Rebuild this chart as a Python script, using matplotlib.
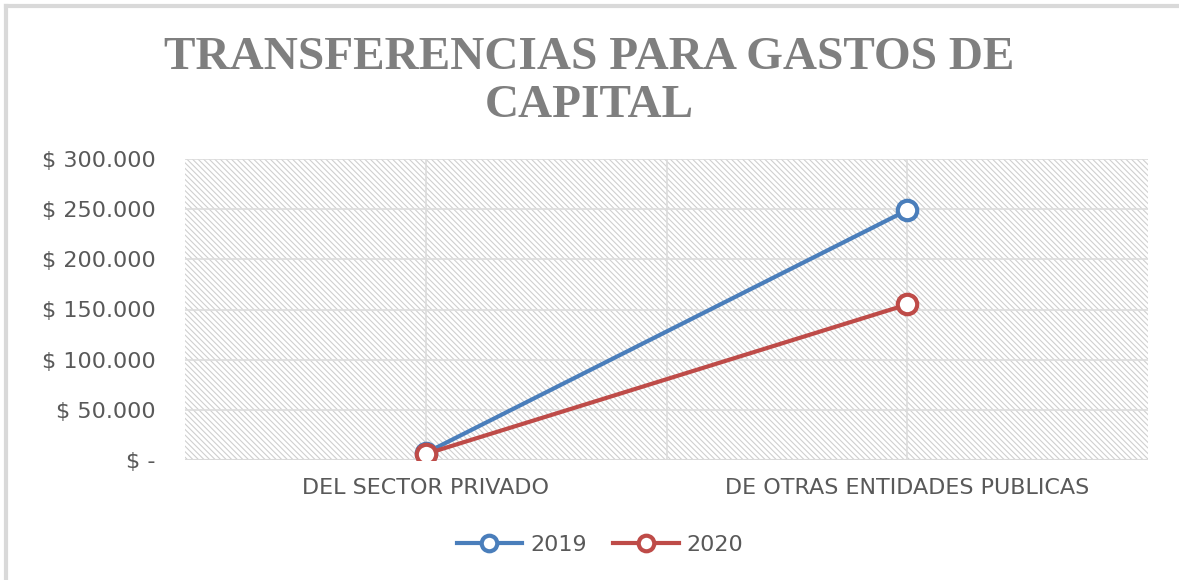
import matplotlib
matplotlib.use("Agg")
import matplotlib.pyplot as plt
from matplotlib.patches import Rectangle
from matplotlib.ticker import FuncFormatter, MultipleLocator

categories = ["DEL SECTOR PRIVADO", "DE OTRAS ENTIDADES PUBLICAS"]
series_names = ["2019", "2020"]
values_2019 = [7000, 249000]
values_2020 = [6000, 155000]
colors = ["#4a7ebb", "#be4b48"]

plt.rcParams["hatch.linewidth"] = 0.8
plt.rcParams["hatch.color"] = "#cfcfcf"

fig = plt.figure(figsize=(11.79, 5.80), dpi=100)
fig.patch.set_facecolor("white")

# outer frame (left & top)
fig.add_artist(plt.Line2D([6/1179, 6/1179], [0, 1-6/580], color="#d9d9d9", lw=3, transform=fig.transFigure))
fig.add_artist(plt.Line2D([6/1179, 1], [1-6/580, 1-6/580], color="#d9d9d9", lw=3, transform=fig.transFigure))

ax = fig.add_axes([185/1179, 1-460/580, (1148-185)/1179, (460-159)/580])
ax.set_xlim(0, 2)
ax.set_ylim(0, 300000)
ax.set_facecolor("white")
ax.add_patch(Rectangle((0, 0), 2, 300000, facecolor="white", edgecolor="#cfcfcf",
                       hatch="\\" * 6, lw=0, zorder=0))

for s in ax.spines.values():
    s.set_visible(False)
ax.yaxis.set_major_locator(MultipleLocator(50000))
for y in range(50000, 300001, 50000):
    ax.axhline(y, color="#dcdcdc", lw=1.2, zorder=1)
ax.axhline(0, color="#d9d9d9", lw=1.5, zorder=1)
for x in [0.5, 1.0, 1.5]:
    ax.axvline(x, color="#dcdcdc", lw=1.2, zorder=1)

def fmt(v, pos):
    if v == 0:
        return "$ -"
    return "$ " + f"{int(v):,}".replace(",", ".")
ax.yaxis.set_major_formatter(FuncFormatter(fmt))

xpos = [0.5, 1.5]
for vals, name, c in [(values_2019, series_names[0], colors[0]), (values_2020, series_names[1], colors[1])]:
    ax.plot(xpos, vals, color=c, lw=3, marker="o", markersize=14, markerfacecolor="white",
            markeredgecolor=c, markeredgewidth=3, label=name, zorder=3)

ax.set_xticks(xpos)
ax.set_xticklabels(categories)
ax.tick_params(axis="both", length=0, labelsize=16, labelcolor="#595959")
ax.tick_params(axis="y", pad=21)
ax.tick_params(axis="x", pad=13)
for lab in ax.get_xticklabels() + ax.get_yticklabels():
    lab.set_family("DejaVu Sans")

fig.text(0.5, 1-58/580, "TRANSFERENCIAS PARA GASTOS DE", ha="center", va="center",
         fontsize=34, fontweight="bold", family="Liberation Serif", color="#7f7f7f")
fig.text(0.5, 1-106/580, "CAPITAL", ha="center", va="center",
         fontsize=34, fontweight="bold", family="Liberation Serif", color="#7f7f7f")

leg = fig.legend(loc="center", bbox_to_anchor=(600/1179, 1-545/580), ncol=2, frameon=False,
                 prop={"family": "DejaVu Sans", "size": 16}, handlelength=2.95, columnspacing=1.2,
                 handletextpad=0.35, markerscale=0.8)
for t in leg.get_texts():
    t.set_color("#595959")

fig.savefig("out.png", dpi=100, facecolor="white")
